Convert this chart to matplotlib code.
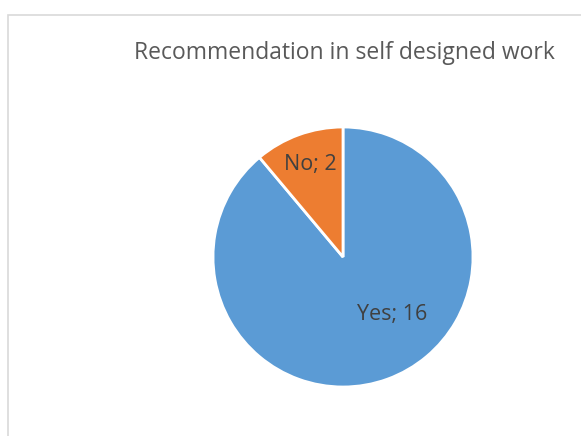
import matplotlib
matplotlib.use("Agg")
import matplotlib.pyplot as plt
from matplotlib.patches import Rectangle

# data
categories = ["Yes", "No"]
counts = [16, 2]
colors = ["#5B9BD5", "#ED7D31"]
title = "Recommendation in self designed work"

plt.rcParams['font.family'] = ['Open Sans', 'DejaVu Sans']

W, H = 581, 436
fig = plt.figure(figsize=(W / 100, H / 100), dpi=100)

# chart frame (cropped on right/bottom)
fig.add_artist(Rectangle((8 / W, -0.1), 1.2, (1 - 15 / H) + 0.1, transform=fig.transFigure,
                         fill=False, edgecolor="#d9d9d9", linewidth=1.2))

# pie: center (343, 257) px, radius 130 px
ax = fig.add_axes([213 / W, (H - 387) / H, 260 / W, 260 / H])
wedges, _ = ax.pie(counts, colors=colors, startangle=90, counterclock=False,
                   radius=1, wedgeprops=dict(edgecolor="white", linewidth=2))
ax.set_xlim(-1, 1)
ax.set_ylim(-1, 1)
ax.axis("off")

# data labels, Excel "best fit" placement
label_pos = [(0.375, -0.445), (-0.25, 0.71)]
for cat, n, (x, y) in zip(categories, counts, label_pos):
    ax.text(x, y, f"{cat}; {n}", ha="center", va="center", fontsize=15.5, color="#404040")

fig.text(344.5 / W, 1 - 53 / H, title, ha="center", va="center", fontsize=16.5, color="#595959")

fig.savefig("out.png", dpi=100)
